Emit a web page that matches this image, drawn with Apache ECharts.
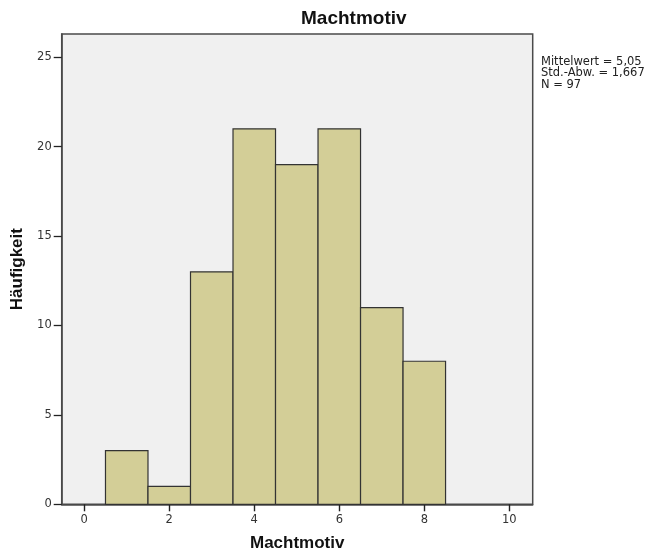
<!DOCTYPE html>
<html>
<head>
<meta charset="utf-8">
<script src="https://cdn.jsdelivr.net/npm/echarts@6/dist/echarts.min.js"></script>
<style>
html,body{margin:0;padding:0;background:#fff;}
#chart{width:657px;height:560px;}
</style>
</head>
<body>
<div id="chart"></div>
<script>
// Histogram data (bin centers, bin width 1)
var binCenters = [1, 2, 3, 4, 5, 6, 7, 8];
var binWidth = 1;
var counts = [3, 1, 13, 21, 19, 21, 11, 8];
var xTicks = [0, 2, 4, 6, 8, 10];
var yTicks = [0, 5, 10, 15, 20, 25];
var statsLines = ['Mittelwert = 5,05', 'Std.-Abw. = 1,667', 'N = 97'];
var titleText = 'Machtmotiv';
var xName = 'Machtmotiv';
var yName = 'Häufigkeit';

var seriesData = binCenters.map(function (c, i) {
  return [c - binWidth / 2, c + binWidth / 2, counts[i]];
});

var chart = echarts.init(document.getElementById('chart'), null, {renderer: 'canvas'});
var labelFont = 'DejaVu Sans';
var boldFont = 'Liberation Sans';

chart.setOption({
  backgroundColor: '#ffffff',
  animation: false,
  title: {
    text: titleText,
    left: 301,
    top: 9,
    padding: 0,
    textStyle: {fontFamily: boldFont, fontWeight: 'bold', fontSize: 19, color: '#111'}
  },
  grid: {
    left: 61.7, right: 124.3, top: 34, bottom: 55.7,
    show: true,
    backgroundColor: '#f0f0f0',
    borderColor: '#4a4a4a',
    borderWidth: 1.5
  },
  xAxis: {
    type: 'value',
    min: -0.53,
    max: 10.55,
    name: xName,
    nameLocation: 'middle',
    nameGap: 31,
    nameTextStyle: {fontFamily: boldFont, fontWeight: 'bold', fontSize: 17, color: '#111'},
    axisLine: {show: true, onZero: false, lineStyle: {color: '#4a4a4a', width: 1.5}},
    splitLine: {show: false},
    axisTick: {show: true, inside: false, length: 7, lineStyle: {color: '#222', width: 1.4}, customValues: xTicks},
    axisLabel: {fontFamily: labelFont, fontSize: 11.5, color: '#333', margin: 10, customValues: xTicks}
  },
  yAxis: {
    type: 'value',
    min: 0,
    max: 26.3,
    name: yName,
    nameLocation: 'middle',
    nameGap: 35,
    nameTextStyle: {fontFamily: boldFont, fontWeight: 'bold', fontSize: 17, color: '#111'},
    axisLine: {show: true, onZero: false, lineStyle: {color: '#4a4a4a', width: 1.5}},
    splitLine: {show: false},
    axisTick: {show: true, length: 8, lineStyle: {color: '#222', width: 1.3}, customValues: yTicks},
    axisLabel: {fontFamily: labelFont, fontSize: 11.5, color: '#333', margin: 10, customValues: yTicks}
  },
  graphic: [{
    type: 'text',
    left: 541,
    top: 56,
    style: {
      text: statsLines.join('\n'),
      fontFamily: labelFont,
      fontSize: 11.5,
      lineHeight: 11.5,
      fill: '#222'
    }
  }],
  series: [{
    type: 'custom',
    data: seriesData,
    encode: {x: [0, 1], y: 2},
    renderItem: function (params, api) {
      var p0 = api.coord([api.value(0), api.value(2)]);
      var p1 = api.coord([api.value(1), 0]);
      return {
        type: 'rect',
        shape: {x: p0[0], y: p0[1], width: p1[0] - p0[0], height: p1[1] - p0[1]},
        style: {fill: '#d3ce97', stroke: '#333', lineWidth: 1.2}
      };
    }
  }]
});
</script>
</body>
</html>
